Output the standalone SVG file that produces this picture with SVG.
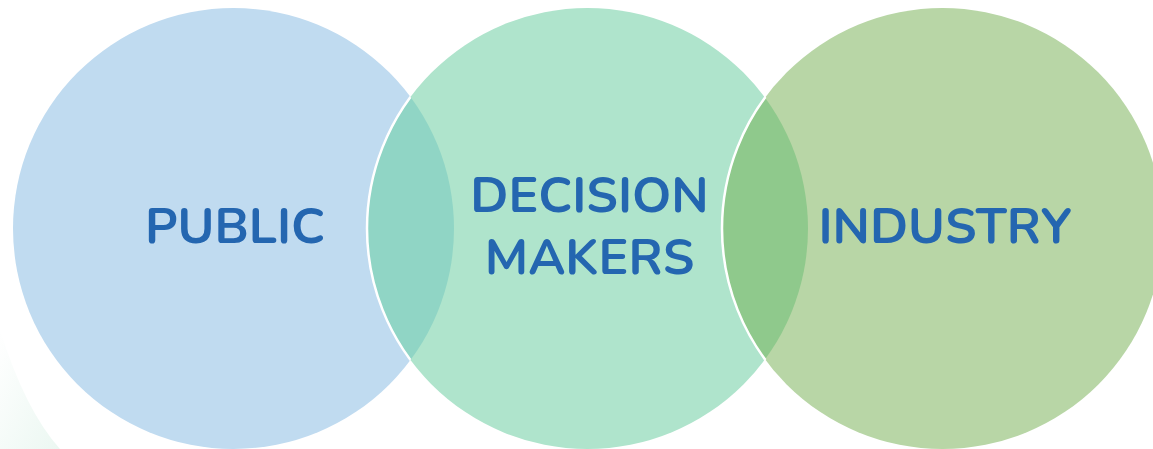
<svg xmlns="http://www.w3.org/2000/svg" width="1153" height="449" viewBox="0 0 1153 449">
  <style>
    .lbl { font-family: Nunito, Lato, "Open Sans", sans-serif; font-weight: 700; font-size: 50px; fill: #2466B0; text-anchor: middle; }
    .seam { fill: none; stroke: #FFFFFF; stroke-width: 2.5; }
  </style>
  <defs>
    <clipPath id="clipMid"><circle cx="587.5" cy="228.5" r="220.5"/></clipPath>
    <clipPath id="clipInd"><circle cx="942.5" cy="228.5" r="220.5"/></clipPath>
    <clipPath id="clipLeft"><circle cx="233.5" cy="228.5" r="220.5"/></clipPath>
    <clipPath id="clipMid2"><circle cx="587.5" cy="228.5" r="221.5"/></clipPath>
    <linearGradient id="bg" x1="0" y1="0" x2="1" y2="1">
      <stop offset="0" stop-color="#E3F4EC" stop-opacity="0"/>
      <stop offset="1" stop-color="#E3F4EC" stop-opacity="1"/>
    </linearGradient>
  </defs>
  <rect width="1153" height="449" fill="#FFFFFF"/>
  <path d="M0,330 Q25,410 60,449 L0,449 Z" fill="url(#bg)" opacity="0.7"/>
  <g id="public">
    <circle cx="233.5" cy="228.5" r="220.5" fill="#C0DBF0"/>
  </g>
  <g id="decision-makers">
    <circle cx="587.5" cy="228.5" r="220.5" fill="#AFE4CC"/>
    <circle cx="233.5" cy="228.5" r="220.5" fill="#90D5C5" clip-path="url(#clipMid)"/>
  </g>
  <g id="industry">
    <circle cx="942.5" cy="228.5" r="220.5" fill="#B8D6A6"/>
    <circle cx="587.5" cy="228.5" r="220.5" fill="#8FC98C" clip-path="url(#clipInd)"/>
  </g>
  <g id="connectors">
    <circle class="seam" cx="587.5" cy="228.5" r="220.5" clip-path="url(#clipLeft)"/>
    <circle class="seam" cx="942.5" cy="228.5" r="220.5" clip-path="url(#clipMid2)"/>
  </g>
  <text class="lbl" x="235" y="243">PUBLIC</text>
  <text class="lbl" x="589.5" y="212">DECISION</text>
  <text class="lbl" x="589.5" y="274">MAKERS</text>
  <text class="lbl" x="945" y="243">INDUSTRY</text>
</svg>
